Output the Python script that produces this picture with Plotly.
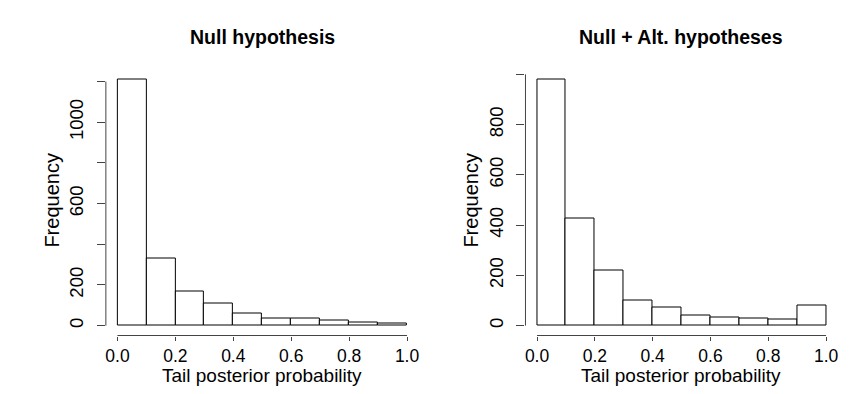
import plotly.graph_objects as go

# ---- data ----
bin_centers = [0.05, 0.15, 0.25, 0.35, 0.45, 0.55, 0.65, 0.75, 0.85, 0.95]
null_counts = [1211, 328, 167, 111, 61, 36, 36, 23, 16, 10]
alt_counts = [980, 426, 218, 101, 74, 40, 33, 27, 26, 82]
x_tickvals = [0.0, 0.2, 0.4, 0.6, 0.8, 1.0]
x_ticktext = ["0.0", "0.2", "0.4", "0.6", "0.8", "1.0"]
null_yticks = [0, 200, 400, 600, 800, 1000, 1200]
null_ytext = ["0", "200", "", "600", "", "1000", ""]
alt_yticks = [0, 200, 400, 600, 800, 1000]
alt_ytext = ["0", "200", "400", "600", "800", ""]
panel_titles = ["Null hypothesis", "Null + Alt. hypotheses"]
x_title = "Tail posterior probability"
y_title = "Frequency"

FONT = "Liberation Sans, Arial, Helvetica, sans-serif"
OFF = 8                      # page body margin
W, H = 859 - 2 * OFF, 394 - 2 * OFF


def px(x):
    return (x - OFF) / W


def py(y):
    return 1 - (y - OFF) / H


fig = go.Figure()
fig.add_trace(go.Bar(x=bin_centers, y=null_counts, width=0.1,
                     marker=dict(color="white", line=dict(color="black", width=1)),
                     xaxis="x", yaxis="y", showlegend=False, hoverinfo="x+y"))
fig.add_trace(go.Bar(x=bin_centers, y=alt_counts, width=0.1,
                     marker=dict(color="white", line=dict(color="black", width=1)),
                     xaxis="x2", yaxis="y2", showlegend=False, hoverinfo="x+y"))

ydom = [py(335.5), py(69.5)]
common_x = dict(range=[-0.04, 1.04], tickvals=x_tickvals, ticktext=x_ticktext,
                ticks="outside", ticklen=4, tickwidth=1, tickcolor="#444",
                showgrid=False, zeroline=False, showline=False,
                tickfont=dict(family=FONT, size=17.5, color="black"), fixedrange=True)
common_y = dict(ticks="outside", ticklen=8, tickwidth=1, tickcolor="#444",
                ticklabelstandoff=6,
                showgrid=False, zeroline=False, showline=False, tickangle=-90,
                tickfont=dict(family=FONT, size=18.5, color="black"), fixedrange=True)


def yrange(counts):
    hi = max(counts)
    return [-0.04 * hi, hi * 1.04]


fig.update_layout(
    width=W, height=H,
    margin=dict(l=0, r=0, t=0, b=0),
    paper_bgcolor="white", plot_bgcolor="white",
    bargap=0,
    xaxis=dict(domain=[px(105.1), px(418.6)], anchor="y", **common_x),
    yaxis=dict(domain=ydom, anchor="x", range=yrange(null_counts),
               tickvals=null_yticks, ticktext=null_ytext, **common_y),
    xaxis2=dict(domain=[px(525.7), px(838.6)], anchor="y2", **common_x),
    yaxis2=dict(domain=ydom, anchor="x2", range=yrange(alt_counts),
                tickvals=alt_yticks, ticktext=alt_ytext, **common_y),
)

# R-style detached axis lines spanning only the tick range
axline = dict(color="#444", width=1)
fig.add_shape(type="line", xref="x", yref="y domain", x0=0, x1=1, y0=0, y1=0, line=axline)
fig.add_shape(type="line", xref="x domain", yref="y", x0=0, x1=0, y0=0, y1=max(null_yticks), line=axline)
fig.add_shape(type="line", xref="x2", yref="y2 domain", x0=0, x1=1, y0=0, y1=0, line=axline)
fig.add_shape(type="line", xref="x2 domain", yref="y2", x0=0, x1=0, y0=0, y1=max(alt_yticks), line=axline)

# titles and axis titles
for i, (xc, ylab_x) in enumerate([(262, 50.7), (682, 470.7)]):
    fig.add_annotation(text="<b>%s</b>" % panel_titles[i], xref="paper", yref="paper",
                       x=px(xc), y=py(37), xanchor="center", yanchor="middle",
                       showarrow=False, font=dict(family=FONT, size=19.5, color="black"))
    fig.add_annotation(text=x_title, xref="paper", yref="paper",
                       x=px(xc), y=py(375), xanchor="center", yanchor="middle",
                       showarrow=False, font=dict(family=FONT, size=19, color="black"))
    fig.add_annotation(text=y_title, xref="paper", yref="paper",
                       x=px(ylab_x), y=py(200), xanchor="center", yanchor="middle",
                       textangle=-90, showarrow=False,
                       font=dict(family=FONT, size=20, color="black"))

fig.write_html("out.html")
